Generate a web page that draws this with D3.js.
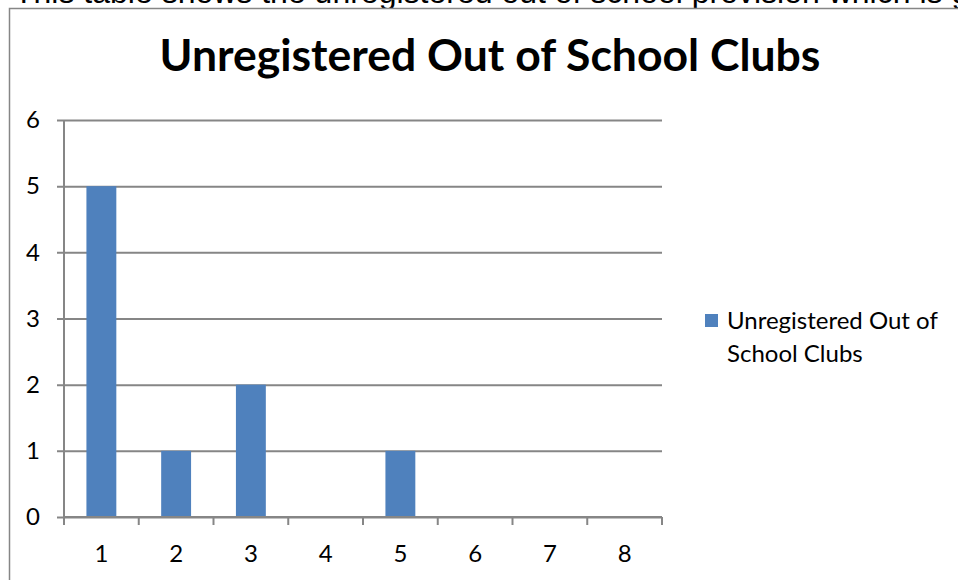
<!DOCTYPE html>
<html>
<head>
<meta charset="utf-8">
<script src="https://cdn.jsdelivr.net/npm/d3@7"></script>
<style>
  html, body { margin: 0; padding: 0; background: #fff; overflow: hidden; }
  svg { display: block; font-family: Lato, "Open Sans", sans-serif; }
</style>
</head>
<body>
<div class="club-chart"></div>
<script>
var categories = [1, 2, 3, 4, 5, 6, 7, 8];
var clubCounts = [5, 1, 2, 0, 1, 0, 0, 0];
var yTicks = [0, 1, 2, 3, 4, 5, 6];
var seriesName = "Unregistered Out of School Clubs";
var pageText = "This table shows the unregistered out of school provision which is given";

var svgWidth = 958;
var svgHeight = 580;
var barColor = "#4f81bd";
var lineColor = "#868686";

var svg = d3.select(".club-chart")
            .append("svg")
            .attr("width", svgWidth)
            .attr("height", svgHeight);

// document text sitting above the chart, mostly cut off like in the source
svg.append("text")
    .attr("x", 14)
    .attr("y", 3)
    .attr("font-size", 32)
    .attr("font-family", "'Liberation Sans', Arial, sans-serif")
    .attr("fill", "#000")
    .text(pageText);

// chart frame (runs past the right and bottom edges)
svg.append("rect")
    .attr("x", 9.5)
    .attr("y", 8.5)
    .attr("width", 1000)
    .attr("height", 600)
    .attr("fill", "#fff")
    .attr("stroke", lineColor)
    .attr("stroke-width", 1.5);

svg.append("text")
    .attr("x", 490)
    .attr("y", 71)
    .attr("text-anchor", "middle")
    .attr("font-size", 44.5)
    .attr("font-weight", "bold")
    .text(seriesName);

var plot = {left: 64, right: 662, top: 120, bottom: 517};

var x = d3.scaleBand()
    .domain(categories)
    .range([plot.left, plot.right])
    .paddingInner(0.6)
    .paddingOuter(0.3);

var xTicks = d3.scaleBand()
    .domain(categories)
    .range([plot.left, plot.right]);

var y = d3.scaleLinear()
    .domain([0, 6])
    .range([plot.bottom, plot.top]);

// gridlines + y axis
var yAxis = d3.axisLeft(y)
    .tickValues(yTicks)
    .tickSize(-(plot.right - plot.left) - 7)
    .tickPadding(17)
    .tickFormat(d3.format("d"));

var gy = svg.append("g")
    .attr("transform", "translate(" + (plot.left - 7) + ",0)")
    .call(yAxis);
gy.select(".domain").remove();
gy.selectAll(".tick line").attr("stroke", lineColor).attr("stroke-width", 2);
gy.selectAll(".tick text").attr("font-size", 24).attr("fill", "#000")
    .attr("font-family", "Lato, sans-serif");

svg.append("line")
    .attr("x1", plot.left).attr("x2", plot.left)
    .attr("y1", plot.top).attr("y2", plot.bottom + 8)
    .attr("stroke", lineColor)
    .attr("stroke-width", 2);

svg.selectAll("rect.bar")
    .data(clubCounts)
    .enter()
    .append("rect")
    .attr("class", "bar")
    .attr("x", function(d, i) { return x(categories[i]); })
    .attr("width", x.bandwidth())
    .attr("y", function(d) { return y(d); })
    .attr("height", function(d) { return y(0) - y(d); })
    .attr("fill", barColor);

// x axis with tick marks between categories
var tickEdges = categories.map(function(c) { return xTicks(c); }).concat([plot.right]);
svg.selectAll("line.xtick")
    .data(tickEdges)
    .enter()
    .append("line")
    .attr("class", "xtick")
    .attr("x1", function(d) { return d; })
    .attr("x2", function(d) { return d; })
    .attr("y1", plot.bottom)
    .attr("y2", plot.bottom + 8)
    .attr("stroke", lineColor)
    .attr("stroke-width", 2);

svg.append("line")
    .attr("x1", plot.left).attr("x2", plot.right)
    .attr("y1", plot.bottom).attr("y2", plot.bottom)
    .attr("stroke", lineColor)
    .attr("stroke-width", 2);

svg.selectAll("text.xlabel")
    .data(categories)
    .enter()
    .append("text")
    .attr("class", "xlabel")
    .attr("x", function(d) { return xTicks(d) + xTicks.bandwidth() / 2; })
    .attr("y", 562)
    .attr("text-anchor", "middle")
    .attr("font-size", 24)
    .text(function(d) { return d; });

// legend
svg.append("rect")
    .attr("x", 705)
    .attr("y", 314)
    .attr("width", 13)
    .attr("height", 13)
    .attr("fill", barColor);

var legendText = svg.append("text")
    .attr("x", 727)
    .attr("y", 329)
    .attr("font-size", 24);
legendText.append("tspan").text("Unregistered Out of");
legendText.append("tspan").attr("x", 727).attr("dy", 33).text("School Clubs");
</script>
</body>
</html>
